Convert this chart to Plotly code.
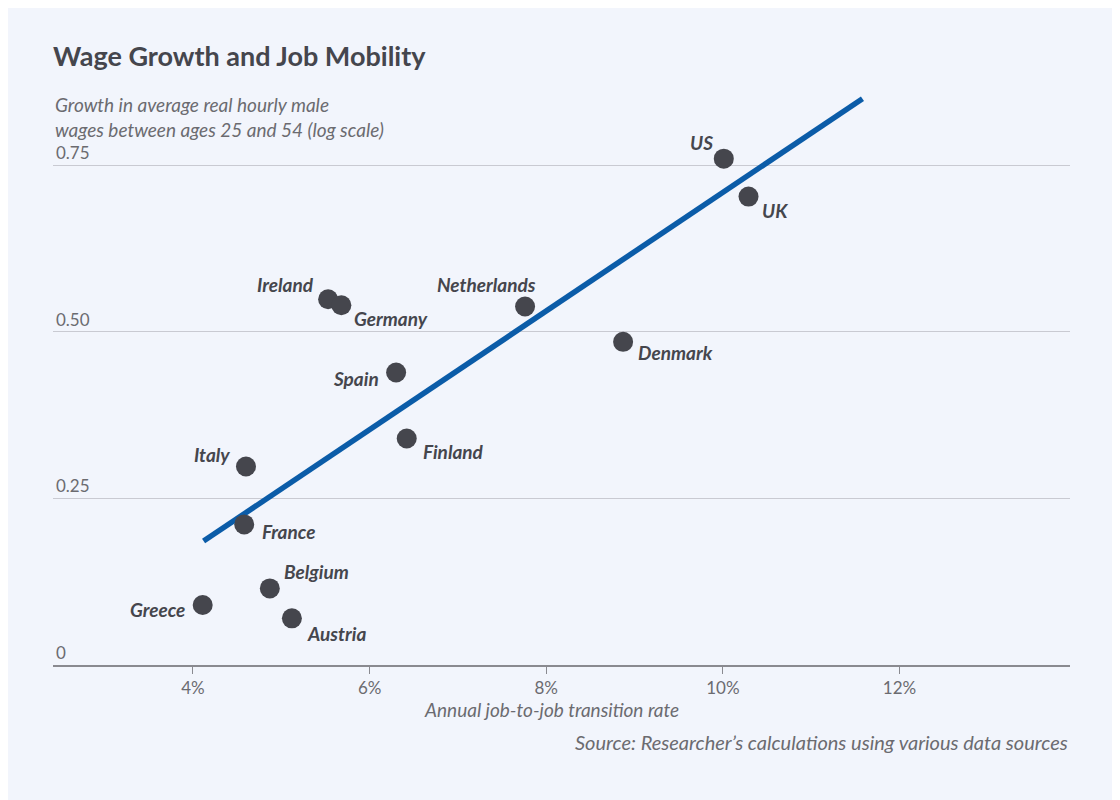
import plotly.graph_objects as go

# data
countries = ["US", "UK", "Netherlands", "Denmark", "Ireland", "Germany", "Spain",
             "Finland", "Italy", "France", "Belgium", "Greece", "Austria"]
transition_rate = [10.01, 10.29, 7.76, 8.87, 5.53, 5.68, 6.30, 6.42, 4.60, 4.58, 4.87, 4.11, 5.12]
wage_growth = [0.760, 0.703, 0.538, 0.485, 0.549, 0.540, 0.439, 0.340, 0.298, 0.211, 0.115, 0.090, 0.070]

trend_x = [4.12, 11.58]
trend_y = [0.186, 0.850]

x_ticks = [4, 6, 8, 10, 12]
x_ticklabels = ["4%", "6%", "8%", "10%", "12%"]
y_ticks = [0, 0.25, 0.5, 0.75]
y_ticklabels = ["0", "0.25", "0.50", "0.75"]

# label placement: (xanchor, xshift, yshift) in pixels
label_pos = {
    "US": ("right", -9, 16),
    "UK": ("left", 11, -14),
    "Netherlands": ("right", 13, 22),
    "Denmark": ("left", 13, -11),
    "Ireland": ("right", -12, 15),
    "Germany": ("left", 11, -13),
    "Spain": ("right", -15, -6),
    "Finland": ("left", 14, -13),
    "Italy": ("right", -14, 12),
    "France": ("left", 16, -7),
    "Belgium": ("left", 12, 17),
    "Greece": ("right", -16, -4),
    "Austria": ("left", 13, -15),
}

FONT = "Source Sans Pro, Lato, Noto Sans, sans-serif"
BG = "#f2f5fc"
GREY = "#6b6b70"
DARK = "#45464d"

# the page adds an 8px body margin, so the figure is 8px smaller and shifted
OFF = 8
W, H = 1120 - OFF, 800 - OFF
ML, MR, MT, MB = 53 - OFF, 50, 92 - OFF, 135
PH = H - MT - MB

fig = go.Figure()
fig.add_trace(go.Scatter(
    x=trend_x, y=trend_y, mode="lines",
    line=dict(color="#0b5ca8", width=5.5),
    hoverinfo="skip", showlegend=False,
))
fig.add_trace(go.Scatter(
    x=transition_rate, y=wage_growth, mode="markers",
    marker=dict(size=20, color=DARK),
    text=countries, showlegend=False,
))

for c, xv, yv in zip(countries, transition_rate, wage_growth):
    anchor, dx, dy = label_pos[c]
    fig.add_annotation(
        x=xv, y=yv, text="<b><i>%s</i></b>" % c, showarrow=False,
        xanchor=anchor, yanchor="middle", xshift=dx, yshift=dy,
        font=dict(family=FONT, size=19, color=DARK),
    )

fig.add_annotation(
    xref="paper", yref="paper", x=0, y=(665 - 143) / PH, xanchor="left", yanchor="bottom",
    text="<i>Growth in average real hourly male<br>wages between ages 25 and 54 (log scale)</i>",
    showarrow=False, align="left",
    font=dict(family=FONT, size=19, color=GREY),
)
fig.add_annotation(
    xref="paper", yref="paper", x=0.49, y=-(696 - 665) / PH, xanchor="center", yanchor="top",
    text="<i>Annual job-to-job transition rate</i>", showarrow=False,
    font=dict(family=FONT, size=19, color=GREY),
)
fig.add_annotation(
    xref="paper", yref="paper", x=1, y=-(728 - 665) / PH, xanchor="right", yanchor="top",
    text="<i>Source: Researcher’s calculations using various data sources</i>", showarrow=False,
    font=dict(family=FONT, size=20, color=GREY),
)

fig.update_layout(
    width=W, height=H,
    margin=dict(l=ML, r=MR, t=MT, b=MB),
    paper_bgcolor=BG, plot_bgcolor=BG,
    font=dict(family=FONT, color=GREY, size=17),
    title=dict(
        text="<b>Wage Growth and Job Mobility</b>",
        x=ML / W, xanchor="left", y=1 - (57 - OFF) / H, yanchor="middle",
        font=dict(family=FONT, size=27, color=DARK),
    ),
    xaxis=dict(
        range=[2.415, 13.93], tickvals=x_ticks, ticktext=x_ticklabels,
        showgrid=False, zeroline=False, showline=True, linecolor="#8a8a90", linewidth=1.5,
        ticks="outside", ticklen=7, tickcolor="#8a8a90",
        tickfont=dict(family=FONT, size=17, color=GREY),
    ),
    yaxis=dict(
        range=[0, 0.86], tickvals=y_ticks, ticktext=y_ticklabels,
        showgrid=True, gridcolor="#c9cad2", gridwidth=1.2, zeroline=False,
        showline=False, ticks="", ticklabelposition="inside top",
        tickfont=dict(family=FONT, size=17, color=GREY),
    ),
)

fig.write_html("out.html")
